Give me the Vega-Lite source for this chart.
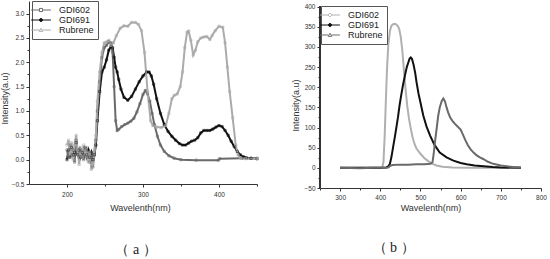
{
  "$schema": "https://vega.github.io/schema/vega-lite/v6.json",
  "background": "white",
  "padding": {"left": 0, "top": 0, "right": 0, "bottom": 0},
  "spacing": 30,
  "config": {
    "view": {"stroke": null},
    "font": "Liberation Sans",
    "axis": {
      "domainColor": "#333",
      "tickColor": "#333",
      "labelFont": "Liberation Sans",
      "labelFontSize": 6.5,
      "labelColor": "#333",
      "labelOverlap": false,
      "labelBound": false,
      "labelFlush": false,
      "titleFont": "Liberation Sans",
      "titleFontSize": 9,
      "titleFontWeight": "normal",
      "titleColor": "#333",
      "grid": false,
      "tickSize": 3,
      "labelPadding": 2,
      "titlePadding": 2
    },
    "legend": {
      "labelFont": "Liberation Sans",
      "labelFontSize": 9,
      "labelColor": "#222",
      "strokeColor": "#555",
      "fillColor": "white",
      "padding": 4,
      "rowPadding": 0,
      "symbolSize": 81,
      "symbolStrokeWidth": 1,
      "labelOffset": 13
    },
    "title": {"font": "Liberation Serif", "fontSize": 14, "fontWeight": "normal", "color": "#222"}
  },
  "resolve": {"scale": {"color": "independent"}, "legend": {"color": "independent"}},
  "datasets": {
    "a": [
      {"s":"GDI691","x":200,"y":0.0},{"s":"GDI691","x":202,"y":0.2},{"s":"GDI691","x":204,"y":0.05},{"s":"GDI691","x":206,"y":0.25},{"s":"GDI691","x":208,"y":0.1},{"s":"GDI691","x":210,"y":0.15},{"s":"GDI691","x":212,"y":0.35},{"s":"GDI691","x":214,"y":0.1},{"s":"GDI691","x":216,"y":0.2},{"s":"GDI691","x":218,"y":0.05},{"s":"GDI691","x":220,"y":0.15},{"s":"GDI691","x":222,"y":0.1},{"s":"GDI691","x":224,"y":0.25},{"s":"GDI691","x":226,"y":0.1},{"s":"GDI691","x":228,"y":0.2},{"s":"GDI691","x":230,"y":0.05},{"s":"GDI691","x":232,"y":0.15},{"s":"GDI691","x":234,"y":0.0},{"s":"GDI691","x":236,"y":0.1},{"s":"GDI691","x":238,"y":0.3},{"s":"GDI691","x":240,"y":0.8},{"s":"GDI691","x":243,"y":1.4},{"s":"GDI691","x":246,"y":1.8},{"s":"GDI691","x":249,"y":1.9},{"s":"GDI691","x":252,"y":2.05},{"s":"GDI691","x":255,"y":2.25},{"s":"GDI691","x":258,"y":2.33},{"s":"GDI691","x":260,"y":2.3},{"s":"GDI691","x":262,"y":2.1},{"s":"GDI691","x":264,"y":1.9},{"s":"GDI691","x":266,"y":1.8},{"s":"GDI691","x":268,"y":1.65},{"s":"GDI691","x":271,"y":1.45},{"s":"GDI691","x":275,"y":1.28},{"s":"GDI691","x":280,"y":1.22},{"s":"GDI691","x":285,"y":1.3},{"s":"GDI691","x":290,"y":1.45},{"s":"GDI691","x":295,"y":1.6},{"s":"GDI691","x":300,"y":1.72},{"s":"GDI691","x":305,"y":1.8},{"s":"GDI691","x":308,"y":1.8},{"s":"GDI691","x":311,"y":1.72},{"s":"GDI691","x":314,"y":1.55},{"s":"GDI691","x":318,"y":1.25},{"s":"GDI691","x":323,"y":0.95},{"s":"GDI691","x":328,"y":0.72},{"s":"GDI691","x":333,"y":0.58},{"s":"GDI691","x":338,"y":0.48},{"s":"GDI691","x":343,"y":0.4},{"s":"GDI691","x":348,"y":0.33},{"s":"GDI691","x":352,"y":0.3},{"s":"GDI691","x":356,"y":0.3},{"s":"GDI691","x":360,"y":0.34},{"s":"GDI691","x":364,"y":0.38},{"s":"GDI691","x":368,"y":0.4},{"s":"GDI691","x":372,"y":0.45},{"s":"GDI691","x":376,"y":0.55},{"s":"GDI691","x":380,"y":0.6},{"s":"GDI691","x":384,"y":0.6},{"s":"GDI691","x":388,"y":0.6},{"s":"GDI691","x":392,"y":0.63},{"s":"GDI691","x":396,"y":0.67},{"s":"GDI691","x":400,"y":0.7},{"s":"GDI691","x":404,"y":0.68},{"s":"GDI691","x":408,"y":0.6},{"s":"GDI691","x":412,"y":0.5},{"s":"GDI691","x":416,"y":0.38},{"s":"GDI691","x":420,"y":0.27},{"s":"GDI691","x":424,"y":0.17},{"s":"GDI691","x":428,"y":0.1},{"s":"GDI691","x":432,"y":0.06},{"s":"GDI691","x":436,"y":0.04},{"s":"GDI691","x":442,"y":0.03},{"s":"GDI691","x":450,"y":0.02},
      {"s":"GDI602","x":200,"y":0.2},{"s":"GDI602","x":202,"y":0.05},{"s":"GDI602","x":204,"y":0.3},{"s":"GDI602","x":206,"y":0.1},{"s":"GDI602","x":208,"y":0.2},{"s":"GDI602","x":210,"y":-0.05},{"s":"GDI602","x":212,"y":0.4},{"s":"GDI602","x":214,"y":0.15},{"s":"GDI602","x":216,"y":0.05},{"s":"GDI602","x":218,"y":0.2},{"s":"GDI602","x":220,"y":0.1},{"s":"GDI602","x":222,"y":0.0},{"s":"GDI602","x":224,"y":0.2},{"s":"GDI602","x":226,"y":0.05},{"s":"GDI602","x":228,"y":0.15},{"s":"GDI602","x":230,"y":-0.05},{"s":"GDI602","x":232,"y":0.1},{"s":"GDI602","x":234,"y":-0.15},{"s":"GDI602","x":236,"y":0.1},{"s":"GDI602","x":238,"y":0.4},{"s":"GDI602","x":240,"y":1.0},{"s":"GDI602","x":243,"y":1.6},{"s":"GDI602","x":246,"y":2.1},{"s":"GDI602","x":249,"y":2.3},{"s":"GDI602","x":252,"y":2.35},{"s":"GDI602","x":255,"y":2.42},{"s":"GDI602","x":258,"y":2.4},{"s":"GDI602","x":260,"y":2.2},{"s":"GDI602","x":262,"y":1.5},{"s":"GDI602","x":264,"y":0.8},{"s":"GDI602","x":266,"y":0.6},{"s":"GDI602","x":268,"y":0.62},{"s":"GDI602","x":272,"y":0.68},{"s":"GDI602","x":276,"y":0.72},{"s":"GDI602","x":280,"y":0.75},{"s":"GDI602","x":284,"y":0.79},{"s":"GDI602","x":288,"y":0.85},{"s":"GDI602","x":292,"y":0.98},{"s":"GDI602","x":296,"y":1.15},{"s":"GDI602","x":300,"y":1.34},{"s":"GDI602","x":303,"y":1.42},{"s":"GDI602","x":306,"y":1.35},{"s":"GDI602","x":309,"y":1.2},{"s":"GDI602","x":312,"y":0.95},{"s":"GDI602","x":315,"y":0.72},{"s":"GDI602","x":319,"y":0.48},{"s":"GDI602","x":323,"y":0.3},{"s":"GDI602","x":328,"y":0.17},{"s":"GDI602","x":334,"y":0.08},{"s":"GDI602","x":341,"y":0.03},{"s":"GDI602","x":350,"y":0.0},{"s":"GDI602","x":370,"y":-0.01},{"s":"GDI602","x":399,"y":-0.01},{"s":"GDI602","x":401,"y":0.02},{"s":"GDI602","x":430,"y":0.03},{"s":"GDI602","x":450,"y":0.03},
      {"s":"Rubrene","x":200,"y":0.3},{"s":"Rubrene","x":202,"y":0.4},{"s":"Rubrene","x":204,"y":0.1},{"s":"Rubrene","x":206,"y":0.35},{"s":"Rubrene","x":208,"y":0.0},{"s":"Rubrene","x":210,"y":0.3},{"s":"Rubrene","x":212,"y":0.5},{"s":"Rubrene","x":214,"y":0.2},{"s":"Rubrene","x":216,"y":-0.1},{"s":"Rubrene","x":218,"y":0.25},{"s":"Rubrene","x":220,"y":0.05},{"s":"Rubrene","x":222,"y":0.3},{"s":"Rubrene","x":224,"y":0.1},{"s":"Rubrene","x":226,"y":0.25},{"s":"Rubrene","x":228,"y":-0.05},{"s":"Rubrene","x":230,"y":0.15},{"s":"Rubrene","x":232,"y":-0.2},{"s":"Rubrene","x":234,"y":-0.1},{"s":"Rubrene","x":236,"y":0.2},{"s":"Rubrene","x":238,"y":0.5},{"s":"Rubrene","x":240,"y":1.2},{"s":"Rubrene","x":243,"y":1.8},{"s":"Rubrene","x":246,"y":2.2},{"s":"Rubrene","x":249,"y":2.4},{"s":"Rubrene","x":252,"y":2.42},{"s":"Rubrene","x":255,"y":2.45},{"s":"Rubrene","x":258,"y":2.35},{"s":"Rubrene","x":261,"y":2.4},{"s":"Rubrene","x":265,"y":2.55},{"s":"Rubrene","x":270,"y":2.7},{"s":"Rubrene","x":275,"y":2.75},{"s":"Rubrene","x":280,"y":2.74},{"s":"Rubrene","x":285,"y":2.82},{"s":"Rubrene","x":290,"y":2.82},{"s":"Rubrene","x":294,"y":2.78},{"s":"Rubrene","x":298,"y":2.65},{"s":"Rubrene","x":302,"y":2.2},{"s":"Rubrene","x":306,"y":1.4},{"s":"Rubrene","x":310,"y":0.8},{"s":"Rubrene","x":313,"y":0.7},{"s":"Rubrene","x":318,"y":0.67},{"s":"Rubrene","x":324,"y":0.66},{"s":"Rubrene","x":330,"y":0.7},{"s":"Rubrene","x":334,"y":0.95},{"s":"Rubrene","x":338,"y":1.25},{"s":"Rubrene","x":341,"y":1.32},{"s":"Rubrene","x":345,"y":1.35},{"s":"Rubrene","x":349,"y":1.5},{"s":"Rubrene","x":352,"y":1.8},{"s":"Rubrene","x":355,"y":2.3},{"s":"Rubrene","x":358,"y":2.62},{"s":"Rubrene","x":360,"y":2.64},{"s":"Rubrene","x":363,"y":2.45},{"s":"Rubrene","x":366,"y":2.15},{"s":"Rubrene","x":369,"y":2.25},{"s":"Rubrene","x":372,"y":2.42},{"s":"Rubrene","x":376,"y":2.5},{"s":"Rubrene","x":380,"y":2.52},{"s":"Rubrene","x":384,"y":2.53},{"s":"Rubrene","x":388,"y":2.47},{"s":"Rubrene","x":391,"y":2.55},{"s":"Rubrene","x":395,"y":2.65},{"s":"Rubrene","x":400,"y":2.74},{"s":"Rubrene","x":405,"y":2.72},{"s":"Rubrene","x":408,"y":2.4},{"s":"Rubrene","x":411,"y":1.9},{"s":"Rubrene","x":414,"y":1.4},{"s":"Rubrene","x":418,"y":0.86},{"s":"Rubrene","x":422,"y":0.3},{"s":"Rubrene","x":425,"y":0.1},{"s":"Rubrene","x":428,"y":0.04},{"s":"Rubrene","x":435,"y":0.02},{"s":"Rubrene","x":450,"y":0.02}
    ],
    "b": [
      {"s":"GDI602","x":300,"y":0},{"s":"GDI602","x":350,"y":0},{"s":"GDI602","x":400,"y":0},{"s":"GDI602","x":405,"y":1},{"s":"GDI602","x":408,"y":15},{"s":"GDI602","x":411,"y":80},{"s":"GDI602","x":414,"y":170},{"s":"GDI602","x":417,"y":250},{"s":"GDI602","x":420,"y":305},{"s":"GDI602","x":424,"y":340},{"s":"GDI602","x":428,"y":353},{"s":"GDI602","x":433,"y":357},{"s":"GDI602","x":438,"y":357},{"s":"GDI602","x":443,"y":353},{"s":"GDI602","x":447,"y":345},{"s":"GDI602","x":451,"y":325},{"s":"GDI602","x":455,"y":290},{"s":"GDI602","x":459,"y":240},{"s":"GDI602","x":463,"y":195},{"s":"GDI602","x":467,"y":155},{"s":"GDI602","x":471,"y":125},{"s":"GDI602","x":475,"y":102},{"s":"GDI602","x":480,"y":78},{"s":"GDI602","x":485,"y":60},{"s":"GDI602","x":490,"y":48},{"s":"GDI602","x":500,"y":35},{"s":"GDI602","x":510,"y":24},{"s":"GDI602","x":520,"y":16},{"s":"GDI602","x":530,"y":10},{"s":"GDI602","x":540,"y":6},{"s":"GDI602","x":555,"y":3},{"s":"GDI602","x":580,"y":1},{"s":"GDI602","x":620,"y":0},{"s":"GDI602","x":750,"y":0},
      {"s":"GDI691","x":300,"y":0},{"s":"GDI691","x":350,"y":0},{"s":"GDI691","x":400,"y":0},{"s":"GDI691","x":415,"y":1},{"s":"GDI691","x":420,"y":4},{"s":"GDI691","x":424,"y":10},{"s":"GDI691","x":428,"y":28},{"s":"GDI691","x":432,"y":52},{"s":"GDI691","x":436,"y":75},{"s":"GDI691","x":440,"y":100},{"s":"GDI691","x":444,"y":125},{"s":"GDI691","x":448,"y":155},{"s":"GDI691","x":452,"y":180},{"s":"GDI691","x":457,"y":208},{"s":"GDI691","x":462,"y":232},{"s":"GDI691","x":466,"y":250},{"s":"GDI691","x":470,"y":262},{"s":"GDI691","x":473,"y":271},{"s":"GDI691","x":476,"y":274},{"s":"GDI691","x":479,"y":270},{"s":"GDI691","x":483,"y":255},{"s":"GDI691","x":487,"y":235},{"s":"GDI691","x":490,"y":214},{"s":"GDI691","x":495,"y":185},{"s":"GDI691","x":500,"y":162},{"s":"GDI691","x":507,"y":130},{"s":"GDI691","x":515,"y":103},{"s":"GDI691","x":524,"y":80},{"s":"GDI691","x":535,"y":57},{"s":"GDI691","x":548,"y":38},{"s":"GDI691","x":565,"y":26},{"s":"GDI691","x":582,"y":18},{"s":"GDI691","x":600,"y":12},{"s":"GDI691","x":615,"y":9},{"s":"GDI691","x":635,"y":6},{"s":"GDI691","x":657,"y":4},{"s":"GDI691","x":680,"y":2},{"s":"GDI691","x":700,"y":1},{"s":"GDI691","x":750,"y":0},
      {"s":"Rubrene","x":300,"y":0},{"s":"Rubrene","x":350,"y":-1},{"s":"Rubrene","x":380,"y":0},{"s":"Rubrene","x":420,"y":1},{"s":"Rubrene","x":425,"y":5},{"s":"Rubrene","x":430,"y":7},{"s":"Rubrene","x":450,"y":8},{"s":"Rubrene","x":470,"y":8},{"s":"Rubrene","x":490,"y":9},{"s":"Rubrene","x":510,"y":9},{"s":"Rubrene","x":525,"y":10},{"s":"Rubrene","x":530,"y":14},{"s":"Rubrene","x":533,"y":35},{"s":"Rubrene","x":536,"y":63},{"s":"Rubrene","x":540,"y":95},{"s":"Rubrene","x":544,"y":128},{"s":"Rubrene","x":548,"y":150},{"s":"Rubrene","x":553,"y":166},{"s":"Rubrene","x":557,"y":172},{"s":"Rubrene","x":561,"y":165},{"s":"Rubrene","x":565,"y":150},{"s":"Rubrene","x":569,"y":137},{"s":"Rubrene","x":574,"y":125},{"s":"Rubrene","x":580,"y":116},{"s":"Rubrene","x":586,"y":109},{"s":"Rubrene","x":593,"y":102},{"s":"Rubrene","x":600,"y":95},{"s":"Rubrene","x":606,"y":82},{"s":"Rubrene","x":612,"y":68},{"s":"Rubrene","x":618,"y":56},{"s":"Rubrene","x":625,"y":46},{"s":"Rubrene","x":632,"y":38},{"s":"Rubrene","x":640,"y":31},{"s":"Rubrene","x":648,"y":26},{"s":"Rubrene","x":656,"y":22},{"s":"Rubrene","x":668,"y":15},{"s":"Rubrene","x":681,"y":10},{"s":"Rubrene","x":700,"y":6},{"s":"Rubrene","x":715,"y":4},{"s":"Rubrene","x":730,"y":2},{"s":"Rubrene","x":750,"y":1}
    ]
  },
  "hconcat": [
    {
      "width": 228,
      "height": 183,
      "title": {"text": "（ a ）", "orient": "bottom", "offset": 30, "dx": -7},
      "data": {"name": "a"},
      "encoding": {
        "x": {"field": "x", "type": "quantitative", "scale": {"domain": [150, 450], "nice": false, "zero": false},
          "axis": {"title": "Wavelenth(nm)", "values": [200, 250, 300, 350, 400, 450], "labelExpr": "datum.value % 100 === 0 ? datum.label : ''", "labelPadding": 4, "titlePadding": 6, "titleX": 111,
            "tickSize": {"condition": {"test": "datum.value % 100 !== 0", "value": 2}, "value": 3}}},
        "y": {"field": "y", "type": "quantitative", "scale": {"domain": [-0.5, 3.26], "nice": false, "zero": false},
          "axis": {"title": "Intensity(a.u)", "values": [-0.5, -0.25, 0, 0.25, 0.5, 0.75, 1, 1.25, 1.5, 1.75, 2, 2.25, 2.5, 2.75, 3], "format": ".1f", "labelExpr": "abs(datum.value*2 - round(datum.value*2)) < 0.01 ? datum.label : ''", "titleY": 97, "titlePadding": 2,
            "tickSize": {"condition": {"test": "abs(datum.value*2 - round(datum.value*2)) > 0.01", "value": 2}, "value": 3}}},
        "color": {"field": "s", "type": "nominal",
          "scale": {"domain": ["GDI602", "GDI691", "Rubrene"], "range": ["#6a6a6a", "#111111", "#ababab"]},
          "legend": {"title": null, "orient": "none", "legendX": 3, "legendY": 0,
            "encode": {"symbols": {"update": {
              "shape": {"signal": "datum.value === 'GDI602' ? 'M-2.2,0H-0.35M0.35,0H2.2M-0.35,-0.35H0.35V0.35H-0.35Z' : datum.value === 'GDI691' ? 'M-2.2,0H2.2M-0.35,0A0.35,0.35 0 1,0 0.35,0A0.35,0.35 0 1,0 -0.35,0Z' : 'M-2.2,0H-0.4M0.4,0H2.2M0,-0.4L0.4,0.3H-0.4Z'"},
              "fill": {"signal": "datum.value === 'GDI691' ? '#111111' : 'white'"},
              "stroke": {"signal": "datum.value === 'GDI691' ? '#111111' : datum.value === 'GDI602' ? '#555555' : '#999999'"}
            }}}}}
      },
      "layer": [
        {"mark": {"type": "line", "strokeWidth": 2}},
        {"mark": {"type": "point", "size": 5, "strokeWidth": 0.8, "filled": false, "shape": "square"}}
      ]
    },
    {
      "width": 221,
      "height": 187,
      "title": {"text": "（ b ）", "orient": "bottom", "offset": 28, "dx": -37},
      "data": {"name": "b"},
      "encoding": {
        "x": {"field": "x", "type": "quantitative", "scale": {"domain": [250, 800], "nice": false, "zero": false},
          "axis": {"title": "Wavelenth(nm)", "values": [250, 300, 350, 400, 450, 500, 550, 600, 650, 700, 750, 800], "labelExpr": "datum.value % 100 === 0 ? datum.label : ''", "labelPadding": 3, "titlePadding": 3,
            "tickSize": {"condition": {"test": "datum.value % 100 !== 0", "value": 2}, "value": 3}}},
        "y": {"field": "y", "type": "quantitative", "scale": {"domain": [-50, 414], "nice": false, "zero": false},
          "axis": {"title": "Intensity(a.u)", "domain": false, "values": [-50, -25, 0, 25, 50, 75, 100, 125, 150, 175, 200, 225, 250, 275, 300, 325, 350, 375, 400], "labelExpr": "datum.value % 50 === 0 ? datum.label : ''", "titleY": 104, "titlePadding": 3,
            "tickSize": {"condition": {"test": "datum.value % 50 !== 0", "value": 2}, "value": 3}}}
      },
      "layer": [
        {
          "mark": {"type": "line", "strokeWidth": 2},
          "encoding": {
            "color": {"field": "s", "type": "nominal",
              "scale": {"domain": ["GDI602", "GDI691", "Rubrene"], "range": ["#b0b0b0", "#111111", "#6a6a6a"]},
              "legend": {"title": null, "orient": "none", "legendX": 1, "legendY": 5,
                "encode": {"symbols": {"update": {
                  "shape": {"signal": "datum.value === 'GDI602' ? 'M-2.2,0H-0.35M0.35,0H2.2M-0.35,0A0.35,0.35 0 1,0 0.35,0A0.35,0.35 0 1,0 -0.35,0Z' : datum.value === 'GDI691' ? 'M-2.2,0H2.2M-0.35,0A0.35,0.35 0 1,0 0.35,0A0.35,0.35 0 1,0 -0.35,0Z' : 'M-2.2,0H-0.4M0.4,0H2.2M0,-0.4L0.4,0.3H-0.4Z'"},
                  "fill": {"signal": "datum.value === 'GDI691' ? '#111111' : 'white'"},
                  "stroke": {"signal": "datum.value === 'GDI691' ? '#111111' : datum.value === 'GDI602' ? '#999999' : '#555555'"}
                }}}}}
          }
        },
        {
          "mark": {"type": "rule", "color": "#333", "strokeWidth": 1},
          "encoding": {"x": {"datum": 250}, "y": {"datum": -50}, "y2": {"datum": 400}}
        }
      ]
    }
  ]
}
